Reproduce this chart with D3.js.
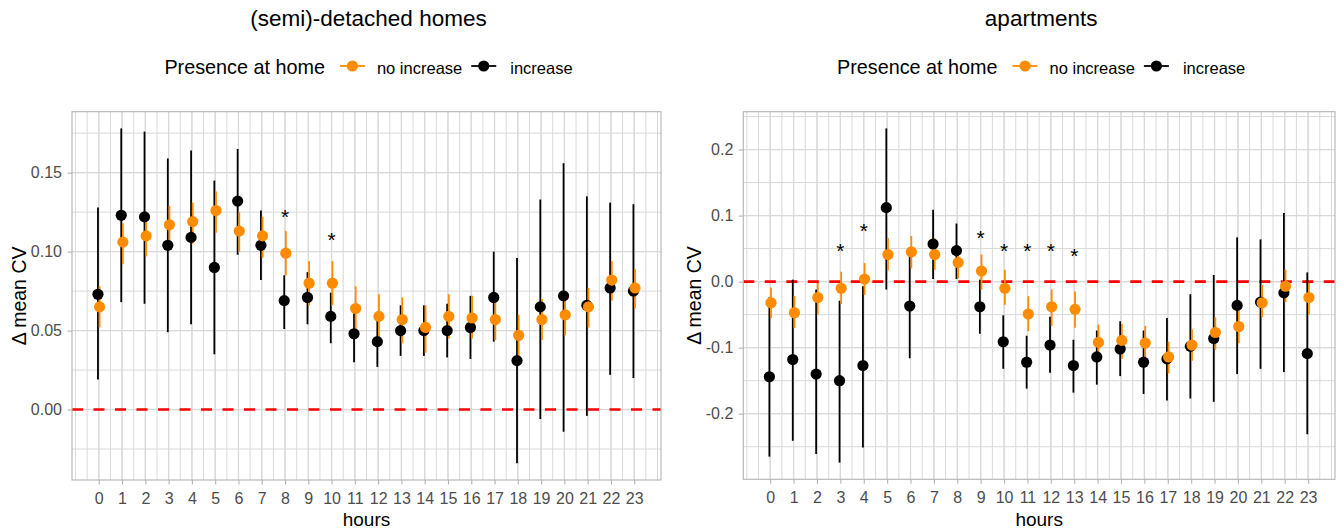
<!DOCTYPE html>
<html>
<head>
<meta charset="utf-8">
<script src="https://cdn.jsdelivr.net/npm/d3@7/dist/d3.min.js"></script>
<style>
  body { margin: 0; background: #fff; }
  text { font-family: "Liberation Sans", Arial, Helvetica, sans-serif; }
</style>
</head>
<body>
<svg id="chart" width="1340" height="531"></svg>
<script>
// hours of the day (x categories)
const hours = [0, 1, 2, 3, 4, 5, 6, 7, 8, 9, 10, 11, 12, 13, 14, 15, 16, 17, 18, 19, 20, 21, 22, 23];

// (semi)-detached homes : "no increase" (orange)
const detNoMean = [0.065, 0.106, 0.110, 0.117, 0.119, 0.126, 0.113, 0.110, 0.099, 0.080, 0.080, 0.064, 0.059, 0.057, 0.052, 0.059, 0.058, 0.057, 0.047, 0.057, 0.060, 0.065, 0.082, 0.077];
const detNoLo   = [0.052, 0.092, 0.097, 0.106, 0.105, 0.112, 0.100, 0.096, 0.085, 0.066, 0.066, 0.050, 0.045, 0.042, 0.036, 0.045, 0.045, 0.044, 0.034, 0.044, 0.047, 0.052, 0.069, 0.064];
const detNoHi   = [0.078, 0.118, 0.122, 0.129, 0.131, 0.138, 0.125, 0.122, 0.113, 0.094, 0.094, 0.078, 0.073, 0.071, 0.066, 0.073, 0.072, 0.071, 0.060, 0.070, 0.073, 0.077, 0.094, 0.089];
// (semi)-detached homes : "increase" (black)
const detIncMean = [0.073, 0.123, 0.122, 0.104, 0.109, 0.090, 0.132, 0.104, 0.069, 0.071, 0.059, 0.048, 0.043, 0.050, 0.050, 0.050, 0.052, 0.071, 0.031, 0.065, 0.072, 0.066, 0.077, 0.075];
const detIncLo   = [0.019, 0.068, 0.067, 0.049, 0.054, 0.035, 0.098, 0.082, 0.051, 0.054, 0.042, 0.030, 0.027, 0.034, 0.034, 0.033, 0.032, 0.043, -0.034, -0.006, -0.014, -0.004, 0.022, 0.020];
const detIncHi   = [0.128, 0.178, 0.176, 0.159, 0.164, 0.145, 0.165, 0.126, 0.085, 0.087, 0.074, 0.063, 0.060, 0.066, 0.066, 0.067, 0.072, 0.100, 0.096, 0.133, 0.156, 0.135, 0.131, 0.130];

// apartments : "no increase" (orange)
const aptNoMean = [-0.032, -0.047, -0.024, -0.010, 0.004, 0.041, 0.045, 0.041, 0.029, 0.016, -0.010, -0.049, -0.038, -0.042, -0.092, -0.089, -0.093, -0.114, -0.096, -0.077, -0.068, -0.032, -0.007, -0.024];
const aptNoLo   = [-0.055, -0.070, -0.050, -0.034, -0.020, 0.017, 0.020, 0.018, 0.005, -0.012, -0.035, -0.075, -0.067, -0.070, -0.121, -0.117, -0.118, -0.139, -0.120, -0.103, -0.093, -0.054, -0.031, -0.050];
const aptNoHi   = [-0.009, -0.022, -0.002, 0.015, 0.028, 0.066, 0.069, 0.066, 0.053, 0.041, 0.018, -0.022, -0.012, -0.015, -0.065, -0.064, -0.067, -0.091, -0.072, -0.054, -0.043, -0.005, 0.018, -0.002];
// apartments : "increase" (black)
const aptIncMean = [-0.144, -0.118, -0.140, -0.150, -0.127, 0.112, -0.037, 0.057, 0.047, -0.038, -0.091, -0.122, -0.096, -0.127, -0.114, -0.102, -0.122, -0.117, -0.098, -0.086, -0.036, -0.031, -0.017, -0.109];
const aptIncLo   = [-0.265, -0.241, -0.261, -0.274, -0.251, -0.012, -0.116, 0.004, 0.004, -0.079, -0.132, -0.162, -0.138, -0.168, -0.156, -0.143, -0.170, -0.180, -0.177, -0.182, -0.140, -0.132, -0.137, -0.231];
const aptIncHi   = [-0.024, 0.003, -0.012, -0.029, -0.007, 0.232, 0.044, 0.109, 0.088, 0.003, -0.051, -0.082, -0.053, -0.088, -0.074, -0.060, -0.074, -0.055, -0.019, 0.010, 0.067, 0.064, 0.104, 0.014];

// significance markers
const detStarHours = [8, 10];
const detStarY     = [0.125, 0.110];
const aptStarHours = [3, 4, 9, 10, 11, 12, 13];
const aptStarY     = [0.054, 0.083, 0.073, 0.054, 0.054, 0.054, 0.045];

// y tick labels
const detYTicks  = [0, 0.05, 0.10, 0.15];
const detYLabels = ["0.00", "0.05", "0.10", "0.15"];
const aptYTicks  = [-0.2, -0.1, 0, 0.1, 0.2];
const aptYLabels = ["-0.2", "-0.1", "0.0", "0.1", "0.2"];

const groupNames = ["no increase", "increase"];
const groupColors = ["#FF8C00", "#000000"];

const svg = d3.select("#chart");
svg.append("rect").attr("width", 1340).attr("height", 531).attr("fill", "#fff");

const gridCol = "#d9d9d9";
const tickCol = "#b3b3b3";
const labCol = "#4d4d4d";

function zip(hs, m, lo, hi) {
  return hs.map((h, i) => ({ h, m: m[i], lo: lo[i], hi: hi[i] }));
}

function drawPanel(p) {
  const inc = zip(hours, p.incMean, p.incLo, p.incHi);
  const no = zip(hours, p.noMean, p.noLo, p.noHi);
  const all = inc.concat(no);

  const xmin = d3.min(hours), xmax = d3.max(hours);
  const xpad = (xmax - xmin) * 0.05;
  const x = d3.scaleLinear().domain([xmin - xpad, xmax + xpad]).range([p.left, p.right]);
  const ymin = d3.min(all, d => d.lo), ymax = d3.max(all, d => d.hi);
  const ypad = (ymax - ymin) * 0.05;
  const y = d3.scaleLinear().domain([ymin - ypad, ymax + ypad]).range([p.bottom, p.top]);

  const g = svg.append("g");

  // minor grid
  const xd = x.domain(), yd = y.domain();
  const xMinor = d3.range(Math.ceil(xd[0] * 2) / 2, xd[1], 0.5);
  const ystep = p.yTicks[1] - p.yTicks[0];
  const yMinor = d3.range(p.yTicks[0] - ystep, p.yTicks[p.yTicks.length - 1] + ystep * 1.01, ystep / 2)
    .filter(v => v > yd[0] && v < yd[1]);

  g.append("g").selectAll("line").data(xMinor).join("line")
    .attr("x1", d => x(d)).attr("x2", d => x(d))
    .attr("y1", p.top).attr("y2", p.bottom)
    .attr("stroke", gridCol).attr("stroke-width", 1);
  g.append("g").selectAll("line").data(yMinor).join("line")
    .attr("x1", p.left).attr("x2", p.right)
    .attr("y1", d => y(d)).attr("y2", d => y(d))
    .attr("stroke", gridCol).attr("stroke-width", 1);
  // major grid
  g.append("g").selectAll("line").data(hours).join("line")
    .attr("x1", d => x(d)).attr("x2", d => x(d))
    .attr("y1", p.top).attr("y2", p.bottom)
    .attr("stroke", gridCol).attr("stroke-width", 1.3);
  g.append("g").selectAll("line").data(p.yTicks).join("line")
    .attr("x1", p.left).attr("x2", p.right)
    .attr("y1", d => y(d)).attr("y2", d => y(d))
    .attr("stroke", gridCol).attr("stroke-width", 1.3);

  // zero reference line
  g.append("line")
    .attr("x1", p.left).attr("x2", p.right)
    .attr("y1", y(0)).attr("y2", y(0))
    .attr("stroke", "#ff0000").attr("stroke-width", 2.6)
    .attr("stroke-dasharray", "11 10.5");

  const dodge = 0.035;
  const series = [
    { data: inc, color: groupColors[1], dx: -dodge },
    { data: no, color: groupColors[0], dx: dodge }
  ];

  // ranges first, then points (as geom_pointrange does)
  series.forEach(s => {
    g.append("g").selectAll("line").data(s.data).join("line")
      .attr("x1", d => x(d.h + s.dx)).attr("x2", d => x(d.h + s.dx))
      .attr("y1", d => y(d.lo)).attr("y2", d => y(d.hi))
      .attr("stroke", s.color).attr("stroke-width", 1.8);
  });
  series.forEach(s => {
    g.append("g").selectAll("circle").data(s.data).join("circle")
      .attr("cx", d => x(d.h + s.dx)).attr("cy", d => y(d.m))
      .attr("r", 5.6).attr("fill", s.color);
  });

  // stars
  const starFs = 21;
  g.append("g").selectAll("text").data(p.starHours.map((h, i) => ({ h, v: p.starY[i] }))).join("text")
    .attr("x", d => x(d.h)).attr("y", d => y(d.v) + starFs * 0.55)
    .attr("text-anchor", "middle").attr("font-size", starFs).attr("fill", "#000")
    .text("*");

  // border
  g.append("rect")
    .attr("x", p.left).attr("y", p.top)
    .attr("width", p.right - p.left).attr("height", p.bottom - p.top)
    .attr("fill", "none").attr("stroke", tickCol).attr("stroke-width", 1.1);

  // axes
  const tickFs = 16;
  const yAxis = g.append("g").attr("transform", `translate(${p.left},0)`)
    .call(d3.axisLeft(y).tickValues(p.yTicks).tickFormat((d, i) => p.yLabels[i]).tickSize(4.5).tickPadding(5.5));
  const xAxis = g.append("g").attr("transform", `translate(0,${p.bottom})`)
    .call(d3.axisBottom(x).tickValues(hours).tickFormat(d => String(d)).tickSize(4.5).tickPadding(8));
  [yAxis, xAxis].forEach(a => {
    a.select(".domain").remove();
    a.selectAll(".tick line").attr("stroke", tickCol).attr("stroke-width", 1.1);
    a.selectAll(".tick text").attr("fill", labCol).attr("font-size", tickFs)
      .attr("font-family", "'Liberation Sans', Arial, sans-serif");
  });

  let labelsLeft = Infinity;
  yAxis.selectAll(".tick text").each(function () {
    const b = this.getBBox();
    labelsLeft = Math.min(labelsLeft, p.left + b.x);
  });

  const cx = (p.left + p.right) / 2 + 2;
  const cy = (p.top + p.bottom) / 2;

  g.append("text")
    .attr("transform", `translate(${labelsLeft - 4.5},${cy}) rotate(-90)`)
    .attr("text-anchor", "middle").attr("font-size", 19.5).attr("fill", "#000")
    .text("Δ mean CV");

  g.append("text")
    .attr("x", (p.left + p.right) / 2).attr("y", 526)
    .attr("text-anchor", "middle").attr("font-size", 19).attr("fill", "#000")
    .text("hours");

  g.append("text")
    .attr("x", cx).attr("y", 26)
    .attr("text-anchor", "middle").attr("font-size", 22.5).attr("fill", "#000")
    .text(p.title);

  // legend
  const lg = g.append("g");
  const baseY = 73.5, keyY = 66;
  const lt = lg.append("text").attr("x", 0).attr("y", baseY)
    .attr("font-size", 19.8).attr("fill", "#000").text("Presence at home");
  let cur = lt.node().getComputedTextLength() + 15;
  groupNames.forEach((name, i) => {
    lg.append("line").attr("x1", cur).attr("x2", cur + 25)
      .attr("y1", keyY).attr("y2", keyY)
      .attr("stroke", groupColors[i]).attr("stroke-width", 1.8);
    lg.append("circle").attr("cx", cur + 12.5).attr("cy", keyY)
      .attr("r", 5.6).attr("fill", groupColors[i]);
    cur += 25 + (i === 0 ? 12 : 14);
    const t = lg.append("text").attr("x", cur).attr("y", baseY)
      .attr("font-size", 16.5).attr("fill", "#000").text(name);
    cur += t.node().getComputedTextLength() + 9;
  });
  const lw = cur - 9;
  lg.attr("transform", `translate(${cx - lw / 2},0)`);
}

drawPanel({
  title: "(semi)-detached homes",
  left: 72, right: 661, top: 111.7, bottom: 480,
  noMean: detNoMean, noLo: detNoLo, noHi: detNoHi,
  incMean: detIncMean, incLo: detIncLo, incHi: detIncHi,
  yTicks: detYTicks, yLabels: detYLabels,
  starHours: detStarHours, starY: detStarY
});

drawPanel({
  title: "apartments",
  left: 743.3, right: 1335, top: 111.7, bottom: 479.3,
  noMean: aptNoMean, noLo: aptNoLo, noHi: aptNoHi,
  incMean: aptIncMean, incLo: aptIncLo, incHi: aptIncHi,
  yTicks: aptYTicks, yLabels: aptYLabels,
  starHours: aptStarHours, starY: aptStarY
});
</script>
</body>
</html>
